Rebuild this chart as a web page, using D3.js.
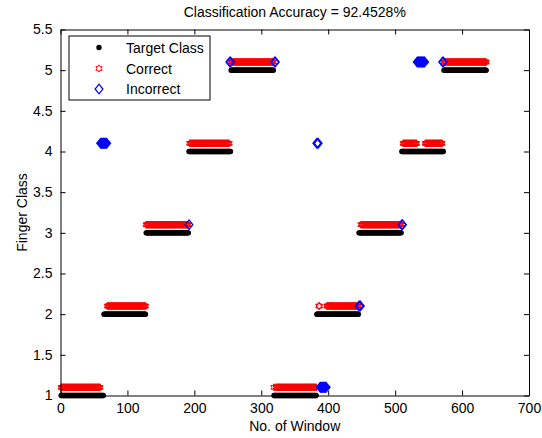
<!DOCTYPE html>
<html>
<head>
<meta charset="utf-8">
<script src="https://cdn.jsdelivr.net/npm/d3@7"></script>
<style>
  body { margin: 0; background: #fff; }
  svg { display: block; font-family: "Liberation Sans", Arial, sans-serif; }
</style>
</head>
<body>
<svg id="chart" width="542" height="438"></svg>
<script>
// ---- data ----
const titleText = "Classification Accuracy = 92.4528%";
const xLabel = "No. of Window";
const yLabel = "Finger Class";
const xTicks = [0, 100, 200, 300, 400, 500, 600, 700];
const yTicks = [1, 1.5, 2, 2.5, 3, 3.5, 4, 4.5, 5, 5.5];
// target class in runs of windows
const segStart = [1, 65, 128, 192, 255, 319, 383, 446, 510, 573];
const segEnd   = [64, 127, 191, 254, 318, 382, 445, 509, 572, 636];
const segClass = [1, 2, 3, 4, 5, 1, 2, 3, 4, 5];
// misclassified windows (runs) and the class predicted for them
const wrongStart = [60, 192, 253, 320, 383, 388, 446, 510, 533, 571];
const wrongEnd   = [69, 192, 254, 321, 385, 397, 448, 511, 544, 572];
const wrongPred  = [4, 3, 5, 5, 4, 1, 2, 3, 5, 5];
const legendLabels = ["Target Class", "Correct", "Incorrect"];

// ---- expand runs ----
const points = [];
segClass.forEach((c, i) => {
  for (let w = segStart[i]; w <= segEnd[i]; w++) {
    let pred = c;
    wrongStart.forEach((s, j) => { if (w >= s && w <= wrongEnd[j]) pred = wrongPred[j]; });
    points.push({ w, target: c, pred });
  }
});

const svg = d3.select("#chart");
const L = 60.5, R = 529, T = 29.5, B = 395.5;
const x = d3.scaleLinear().domain([0, 700]).range([L, R]);
const y = d3.scaleLinear().domain([1, 5.5]).range([B, T]);

function hexPath(r) {
  const ri = r / Math.sqrt(3);
  const pts = [];
  for (let k = 0; k < 12; k++) {
    const a = -Math.PI / 2 + k * Math.PI / 6;
    const rr = k % 2 === 0 ? r : ri;
    pts.push([rr * Math.cos(a), rr * Math.sin(a)]);
  }
  return "M" + pts.map(p => p[0].toFixed(2) + "," + p[1].toFixed(2)).join("L") + "Z";
}
const diamondPath = "M0,-4.8L3.9,0L0,4.8L-3.9,0Z";
const hex = hexPath(3.6);

svg.append("rect").attr("x", L).attr("y", T).attr("width", R - L).attr("height", B - T)
  .attr("fill", "#fff").attr("stroke", "none");

// data marks
const plot = svg.append("g");
plot.selectAll("circle.t").data(points).join("circle")
  .attr("class", "t")
  .attr("cx", d => x(d.w)).attr("cy", d => y(d.target)).attr("r", 2.7)
  .attr("fill", "#000");
plot.selectAll("path.c").data(points.filter(d => d.pred === d.target)).join("path")
  .attr("class", "c")
  .attr("d", hex)
  .attr("transform", d => `translate(${x(d.w)},${y(d.pred + 0.1)})`)
  .attr("fill", "none").attr("stroke", "#ff0000").attr("stroke-width", 1);
plot.selectAll("path.i").data(points.filter(d => d.pred !== d.target)).join("path")
  .attr("class", "i")
  .attr("d", diamondPath)
  .attr("transform", d => `translate(${x(d.w)},${y(d.pred + 0.1)})`)
  .attr("fill", "none").attr("stroke", "#0000ff").attr("stroke-width", 1.2);

// axes
const fs = 14;
const gx = svg.append("g").attr("transform", `translate(0,${B})`)
  .call(d3.axisBottom(x).tickValues(xTicks).tickSizeInner(-5).tickSizeOuter(0).tickPadding(8).tickFormat(d3.format("d")));
const gxt = svg.append("g").attr("transform", `translate(0,${T})`)
  .call(d3.axisTop(x).tickValues(xTicks).tickSizeInner(-5).tickSizeOuter(0).tickFormat(""));
const gy = svg.append("g").attr("transform", `translate(${L},0)`)
  .call(d3.axisLeft(y).tickValues(yTicks).tickSizeInner(-5).tickSizeOuter(0).tickPadding(8).tickFormat(d3.format("")));
const gyr = svg.append("g").attr("transform", `translate(${R},0)`)
  .call(d3.axisRight(y).tickValues(yTicks).tickSizeInner(-5).tickSizeOuter(0).tickFormat(""));
[gx, gxt, gy, gyr].forEach(g => {
  g.selectAll("path.domain").attr("stroke", "#000").attr("stroke-width", 1);
  g.selectAll(".tick line").attr("stroke", "#000");
  g.selectAll("text").attr("fill", "#000").attr("font-size", fs)
    .attr("font-family", "'Liberation Sans', Arial, sans-serif");
});

// titles
svg.append("text").attr("x", (L + R) / 2).attr("y", 17).attr("text-anchor", "middle")
  .attr("font-size", fs).attr("fill", "#000").text(titleText);
svg.append("text").attr("x", (L + R) / 2).attr("y", 431).attr("text-anchor", "middle")
  .attr("font-size", fs).attr("fill", "#000").text(xLabel);
svg.append("text").attr("transform", `translate(27,${(T + B) / 2}) rotate(-90)`)
  .attr("text-anchor", "middle").attr("font-size", fs).attr("fill", "#000").text(yLabel);

// legend
const lg = svg.append("g");
lg.append("rect").attr("x", 69).attr("y", 36).attr("width", 141).attr("height", 64)
  .attr("fill", "#fff").attr("stroke", "#000").attr("stroke-width", 1);
const ly = [47.5, 68.5, 89];
legendLabels.forEach((lab, i) => {
  const g = lg.append("g").attr("transform", `translate(99,${ly[i]})`);
  if (i === 0) g.append("circle").attr("r", 2.7).attr("fill", "#000");
  if (i === 1) g.append("path").attr("d", hex).attr("fill", "none").attr("stroke", "#ff0000").attr("stroke-width", 1);
  if (i === 2) g.append("path").attr("d", diamondPath).attr("fill", "none").attr("stroke", "#0000ff").attr("stroke-width", 1.2);
  lg.append("text").attr("x", 126).attr("y", ly[i] + 5).attr("font-size", fs)
    .attr("fill", "#000").text(lab);
});
</script>
</body>
</html>
